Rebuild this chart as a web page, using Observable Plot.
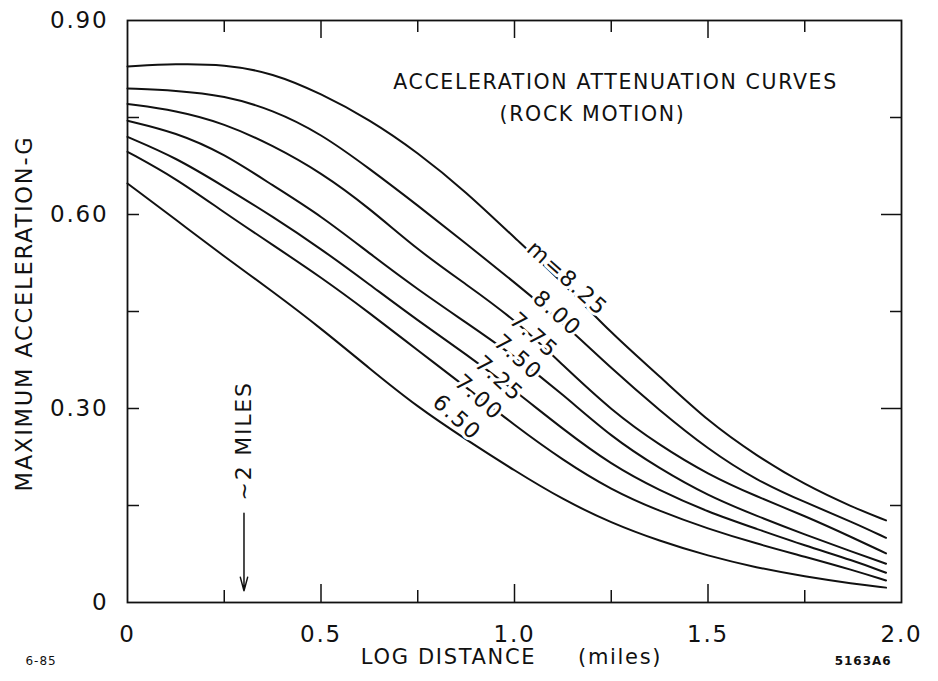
<!DOCTYPE html>
<html><head><meta charset="utf-8">
<script src="https://cdn.jsdelivr.net/npm/d3@7"></script>
<script src="https://cdn.jsdelivr.net/npm/@observablehq/plot@0.6"></script>
<style>
body{margin:0;background:#fff}
svg text{letter-spacing:0.08em}
</style></head><body><div id="chart"></div>
<script>
// Log distance (miles) sample points
const distance = [0,0.125,0.25,0.375,0.5,0.625,0.75,0.875,1.0,1.125,1.25,1.375,1.5,1.625,1.75,1.875,1.96];
// Maximum acceleration (g) per magnitude curve
const m825 = [0.829,0.833,0.832,0.819,0.787,0.747,0.696,0.635,0.564,0.495,0.416,0.350,0.280,0.227,0.182,0.147,0.127];
const m800 = [0.795,0.792,0.784,0.762,0.725,0.671,0.614,0.555,0.495,0.433,0.362,0.297,0.237,0.189,0.155,0.124,0.100];
const m775 = [0.771,0.761,0.741,0.707,0.665,0.610,0.545,0.492,0.438,0.367,0.297,0.243,0.198,0.164,0.134,0.100,0.076];
const m750 = [0.745,0.727,0.694,0.645,0.598,0.540,0.484,0.433,0.381,0.322,0.256,0.207,0.165,0.134,0.105,0.078,0.060];
const m725 = [0.720,0.688,0.643,0.597,0.547,0.492,0.436,0.384,0.328,0.268,0.213,0.173,0.140,0.114,0.088,0.065,0.046];
const m700 = [0.697,0.656,0.603,0.553,0.503,0.448,0.390,0.333,0.274,0.220,0.174,0.141,0.114,0.091,0.071,0.050,0.034];
const m650 = [0.648,0.592,0.535,0.481,0.424,0.362,0.302,0.252,0.204,0.159,0.123,0.095,0.072,0.054,0.040,0.029,0.023];
const magnitudes = ["8.25","8.00","7.75","7.50","7.25","7.00","6.50"];
const seriesValues = [m825,m800,m775,m750,m725,m700,m650];

// Inline curve labels (data coordinates)
const curveLabels = ["m=8.25","8.00","7.75","7.50","7.25","7.00","6.50"];
const labelX = [1.136,1.11,1.05,1.009,0.96,0.908,0.851];
const labelY = [0.501,0.447,0.413,0.379,0.346,0.317,0.286];

// Axis ticks
const xTickLabels = [0,0.5,1.0,1.5,2.0];
const xTickMajor = [0.5,1.0,1.5];
const xTickMinor = [0.25,0.75,1.25,1.75];
const yTickLabels = [0,0.30,0.60,0.90];
const yTickLeft = [0.15,0.30,0.45,0.60,0.75];
const yTickRightMajor = [0.30,0.60];
const yTickRightMinor = [0.15,0.45,0.75];

// "~2 miles" marker (log10 2)
const markerX = [0.301];
const markerArrowY = [0.138,0.018];
const markerTextY = [0.25];
const markerText = ["~2 MILES"];

const titleLines = ["ACCELERATION ATTENUATION CURVES","(ROCK MOTION)"];
const xTitle = "LOG DISTANCE\u00a0\u00a0\u00a0\u00a0\u00a0(miles)";
const yTitle = "MAXIMUM ACCELERATION-G";
const leftNote = "6-85";
const rightNote = "5163A6";

const rows = magnitudes.flatMap((m,i) => distance.map((d,j) => ({m, d, a: seriesValues[i][j]})));
const labels = curveLabels.map((t,i) => ({t, x: labelX[i], y: labelY[i]}));

const W=938,H=681,mt=20,mr=37,mb=79,ml=127;
const fw=W-ml-mr, fh=H-mt-mb;
const ink="#111";

const chart = Plot.plot({
  width:W, height:H, marginTop:mt, marginRight:mr, marginBottom:mb, marginLeft:ml,
  style:{fontFamily:"'DejaVu Sans', sans-serif", color:ink, background:"white", overflow:"visible"},
  x:{domain:[0,2]},
  y:{domain:[0,0.9]},
  marks:[
    Plot.line(rows,{x:"d", y:"a", z:"m", curve:"basis", stroke:ink, strokeWidth:2}),
    Plot.text(labels,{x:"x", y:"y", text:"t", rotate:42, fontSize:22, fill:ink, stroke:"white", strokeWidth:6}),
    Plot.frame({stroke:ink, strokeWidth:1.8}),
    Plot.tickY(yTickLeft,{y:d=>d, insetRight:fw-12, stroke:ink, strokeWidth:1.5}),
    Plot.tickY(yTickRightMajor,{y:d=>d, insetLeft:fw-20, stroke:ink, strokeWidth:1.5}),
    Plot.tickY(yTickRightMinor,{y:d=>d, insetLeft:fw-11, stroke:ink, strokeWidth:1.5}),
    Plot.tickX(xTickMajor,{x:d=>d, insetBottom:fh-18, stroke:ink, strokeWidth:1.5}),
    Plot.tickX(xTickMinor,{x:d=>d, insetBottom:fh-12, stroke:ink, strokeWidth:1.5}),
    Plot.tickX(xTickMajor,{x:d=>d, insetTop:fh-18, stroke:ink, strokeWidth:1.5}),
    Plot.tickX(xTickMinor,{x:d=>d, insetTop:fh-12, stroke:ink, strokeWidth:1.5}),
    Plot.axisX(xTickLabels,{anchor:"bottom", tickSize:0, tickPadding:23, fontSize:23, label:null,
      tickFormat:d=>d===0?"0":d.toFixed(1)}),
    Plot.axisY(yTickLabels,{anchor:"left", tickSize:0, tickPadding:19, fontSize:23, label:null,
      tickFormat:d=>d===0?"0":d.toFixed(2)}),
    Plot.text([yTitle],{frameAnchor:"left", textAnchor:"middle", rotate:-90, dx:-103, dy:2, fontSize:22.5, fill:ink}),
    Plot.text([xTitle],{frameAnchor:"bottom", dy:61, dx:-3, fontSize:21, fill:ink}),
    Plot.text([titleLines[0]],{frameAnchor:"top", dx:101, dy:54, fontSize:20.5, fill:ink}),
    Plot.text([titleLines[1]],{frameAnchor:"top", dx:78, dy:86, fontSize:20.5, fill:ink}),
    Plot.text([leftNote],{frameAnchor:"bottom-left", dx:-102, dy:62, fontSize:12, fill:ink}),
    Plot.text([rightNote],{frameAnchor:"bottom-right", dx:-10, dy:62, fontSize:12, fontWeight:"bold", fill:ink}),
    Plot.arrow(markerX,{x1:d=>d, x2:d=>d, y1:()=>markerArrowY[0], y2:()=>markerArrowY[1], stroke:ink, strokeWidth:1.5, headLength:14, headAngle:30}),
    Plot.text(markerText,{x:()=>markerX[0], y:()=>markerTextY[0], rotate:-90, fontSize:22, fill:ink})
  ]
});
document.getElementById("chart").appendChild(chart);
</script></body></html>
